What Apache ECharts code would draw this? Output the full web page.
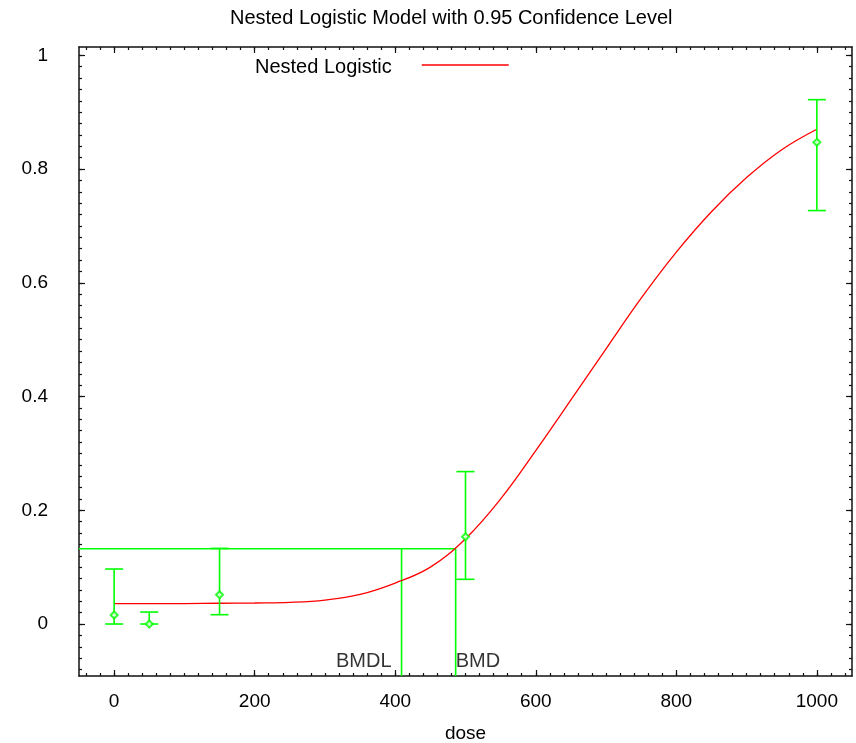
<!DOCTYPE html>
<html>
<head>
<meta charset="utf-8">
<script src="https://cdn.jsdelivr.net/npm/echarts@6/dist/echarts.min.js"></script>
<style>html,body{margin:0;padding:0;background:#fff}#c{width:856px;height:743px}</style>
</head>
<body>
<div id="c"></div>
<script>
// ---- data ----
var titleText = 'Nested Logistic Model with 0.95 Confidence Level';
var modelName = 'Nested Logistic';
var xTicks = [0, 200, 400, 600, 800, 1000];
var yTicks = [0, 0.2, 0.4, 0.6, 0.8, 1];
var doses = [0, 50, 150, 500, 1000];
var observed = [0.0158, 0.0, 0.0516, 0.1535, 0.847];
var lowerCI = [0.0, 0.0, 0.0164, 0.0786, 0.727];
var upperCI = [0.0967, 0.021, 0.133, 0.268, 0.922];
var curveDose = [0, 50, 100, 150, 200, 250, 300, 350, 400, 450, 500, 550, 600, 650, 700, 750, 800, 850, 900, 950, 1000];
var curveResp = [0.0357, 0.0358, 0.036, 0.0365, 0.037, 0.038, 0.042, 0.052, 0.072, 0.100, 0.150, 0.220, 0.305, 0.394, 0.484, 0.573, 0.654, 0.725, 0.785, 0.834, 0.870];
var bmrLevel = 0.1323;
var bmd = 486;
var bmdl = 409;
var xMin = -50, xMax = 1050;
var yMin = -0.0914, yMax = 1.0146;

// ---- build ----
var FONT = '"Liberation Sans", Arial, sans-serif';
var BLACK = '#111';
var GREEN = '#00ff00';
var RED = '#ff0000';

var xMinor = [];
for (var i = -40; i <= 1040; i += 20) xMinor.push(i);
var yMinor = [];
for (var j = -8; j <= 100; j += 2) yMinor.push(Math.round(j) / 100);

function mkX(pos, values, len, showLine, showLabel, extra) {
  var a = {
    type: 'value', position: pos, min: xMin, max: xMax,
    splitLine: { show: false },
    axisLine: { show: showLine, onZero: false, lineStyle: { color: BLACK, width: 1.5 } },
    axisTick: { show: true, inside: true, length: len, customValues: values, lineStyle: { color: BLACK, width: 1.2 } },
    axisLabel: showLabel ? { show: true, customValues: values, fontSize: 19, color: '#000', fontFamily: FONT, margin: 16,
      formatter: function (v) { return String(v); } } : { show: false }
  };
  if (extra) for (var k in extra) a[k] = extra[k];
  return a;
}
function mkY(pos, values, len, showLine, showLabel) {
  return {
    type: 'value', position: pos, min: yMin, max: yMax,
    splitLine: { show: false },
    axisLine: { show: showLine, onZero: false, lineStyle: { color: BLACK, width: 1.5 } },
    axisTick: { show: true, inside: true, length: len, customValues: values, lineStyle: { color: BLACK, width: 1.2 } },
    axisLabel: showLabel ? { show: true, customValues: values, fontSize: 19, color: '#000', fontFamily: FONT, margin: 31,
      padding: [8, 0, 0, 0],
      formatter: function (v) { return String(Math.round(v * 10) / 10); } } : { show: false }
  };
}

var xAxes = [
  mkX('bottom', xTicks, 6, true, true, { name: 'dose', nameLocation: 'middle', nameGap: 48, nameTextStyle: { fontSize: 19, color: '#000', fontFamily: FONT } }),
  mkX('bottom', xMinor, 3, false, false),
  mkX('top', xTicks, 6, true, false),
  mkX('top', xMinor, 3, false, false)
];
var yAxes = [
  mkY('left', yTicks, 6, true, true),
  mkY('left', yMinor, 3, false, false),
  mkY('right', yTicks, 6, true, false),
  mkY('right', yMinor, 3, false, false)
];

var curveData = curveDose.map(function (d, i) { return [d, curveResp[i]]; });
var ciData = doses.map(function (d, i) { return [d, lowerCI[i], upperCI[i]]; });
var obsData = doses.map(function (d, i) { return [d, observed[i]]; });

var chart = echarts.init(document.getElementById('c'), null, { renderer: 'canvas' });
chart.setOption({
  backgroundColor: '#fff',
  animation: false,
  title: {
    text: titleText, left: 230, top: 8, padding: 0,
    textStyle: { fontSize: 20, fontWeight: 'normal', color: '#000', fontFamily: FONT }
  },
  legend: {
    data: [{ name: modelName, icon: 'rect' }], left: 255, top: 57, padding: 0, align: 'right',
    itemWidth: 87, itemHeight: 1.5,
    textStyle: { fontSize: 20, color: '#000', fontFamily: FONT, rich: { a: { fontSize: 20, color: '#000', fontFamily: FONT, padding: [4, 25, 0, 0] } } },
    formatter: function (n) { return '{a|' + n + '}'; }
  },
  grid: { left: 79, right: 4, top: 47, bottom: 67, containLabel: false, outerBoundsMode: 'none' },
  xAxis: xAxes,
  yAxis: yAxes,
  series: [
    {
      name: modelName, type: 'line', data: curveData, xAxisIndex: 0, yAxisIndex: 0,
      symbol: 'none', smooth: 0.4,
      lineStyle: { color: RED, width: 1.3 }, itemStyle: { color: RED }, z: 3
    },
    {
      name: 'bmr', type: 'line', xAxisIndex: 0, yAxisIndex: 0, symbol: 'none',
      data: [[xMin, bmrLevel], [bmd, bmrLevel], [bmd, yMin]],
      lineStyle: { color: GREEN, width: 1.6 }, z: 2
    },
    {
      name: 'bmdl', type: 'line', xAxisIndex: 0, yAxisIndex: 0, symbol: 'none',
      data: [[bmdl, yMin], [bmdl, bmrLevel]],
      lineStyle: { color: GREEN, width: 1.6 }, z: 2
    },
    {
      name: 'ci', type: 'custom', xAxisIndex: 0, yAxisIndex: 0, data: ciData,
      encode: { x: 0, y: [1, 2] },
      renderItem: function (params, api) {
        var x = api.value(0);
        var top = api.coord([x, api.value(2)]);
        var bot = api.coord([x, api.value(1)]);
        var w = 9;
        var st = { stroke: GREEN, lineWidth: 1.6 };
        return {
          type: 'group', children: [
            { type: 'line', shape: { x1: top[0], y1: top[1], x2: bot[0], y2: bot[1] }, style: st },
            { type: 'line', shape: { x1: top[0] - w, y1: top[1], x2: top[0] + w, y2: top[1] }, style: st },
            { type: 'line', shape: { x1: bot[0] - w, y1: bot[1], x2: bot[0] + w, y2: bot[1] }, style: st }
          ]
        };
      }, z: 4
    },
    {
      name: 'obs', type: 'scatter', xAxisIndex: 0, yAxisIndex: 0, data: obsData,
      symbol: 'emptyDiamond', symbolSize: 7,
      itemStyle: { color: GREEN, borderColor: GREEN, borderWidth: 1.3 }, z: 5
    },
    {
      name: 'labels', type: 'scatter', xAxisIndex: 0, yAxisIndex: 0, symbolSize: 0,
      data: [
        { value: [bmdl, -0.066], label: { show: true, formatter: 'BMDL', position: 'left', distance: 10, color: '#000' } },
        { value: [bmd, -0.066], label: { show: true, formatter: 'BMD', position: 'right', distance: 0, color: '#000' } }
      ],
      label: { fontSize: 20, color: '#000', fontFamily: FONT },
      silent: true, z: 6
    }
  ]
});
</script>
</body>
</html>
